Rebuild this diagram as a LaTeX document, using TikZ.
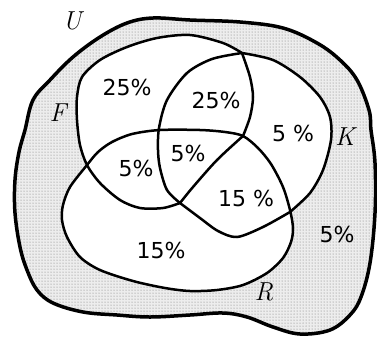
\documentclass[tikz,border=0pt]{standalone}
\usepackage{fontspec}
\newfontfamily\hand{DejaVu Sans}
\usetikzlibrary{patterns}
\tikzset{
  setline/.style={draw=black, line width=2.5pt, line join=round, line cap=round},
  blobline/.style={draw=black, line width=3.5pt, line join=round},
  pct/.style={font=\hand\fontsize{22}{24}\selectfont, inner sep=0pt},
  setlabel/.style={font=\fontsize{26}{28}\selectfont\itshape, inner sep=0pt}
}
\begin{document}
\begin{tikzpicture}[x=1pt,y=-1pt]
\useasboundingbox (0,0) rectangle (377,341);
\def\Upath{plot[smooth cycle, tension=0.6] coordinates {(190,20) (153,18) (127,23) (100,37) (73,57) (50,80) (33,100) (25,130) (19,152) (15,180) (15,213) (20,247) (27,270) (37,290) (53,303) (83,312) (117,315) (150,317) (190,315) (223,313) (247,317) (273,327) (300,334) (330,330) (350,315) (361,297) (370,263) (375,213) (375,163) (371,130) (369,110) (357,80) (340,60) (317,43) (283,28) (240,22)}}
\def\Fpath{plot[smooth] coordinates {(242,53) (250,77) (253,97) (250,117) (243,136)} -- plot[smooth] coordinates {(243,136) (217,160) (193,187) (180,203)} -- plot[smooth] coordinates {(180,203) (163,208) (140,208) (120,200) (100,183) (87,165) (80,145) (77,120) (77,97) (82,77) (100,60) (127,47) (157,38) (190,35) (223,43) (242,53)} -- cycle}
\def\Kpath{plot[smooth] coordinates {(242,53) (273,60) (300,77) (320,97) (330,117) (331,140) (323,170) (310,193) (290,212)} -- plot[smooth] coordinates {(290,212) (263,227) (237,237) (218,231) (200,218) (180,203)} -- plot[smooth] coordinates {(180,203) (167,190) (160,168) (158,150) (159,128) (167,100) (187,73) (212,59) (242,53)} -- cycle}
\def\Rpath{plot[smooth cycle] coordinates {(87,165) (98,152) (112,142) (132,134) (160,130) (200,130) (225,132) (243,136) (258,148) (271,164) (283,187) (290,210) (293,228) (291,242) (283,258) (267,273) (243,285) (217,290) (190,291) (165,288) (133,281) (100,270) (80,257) (67,237) (62,220) (63,205) (70,187)}}
% universe
\fill[gray!14] \Upath;
\fill[pattern=dots, pattern color=black!55] \Upath;
% sets
\fill[white] \Fpath;
\fill[white] \Kpath;
\fill[white] \Rpath;
\draw[setline] \Fpath;
\draw[setline] \Kpath;
\draw[setline] \Rpath;
\draw[blobline] \Upath;
% set labels
\node[setlabel] (lU) at (72,21) {U};
\node[setlabel] (lF) at (58,113) {F};
\node[setlabel] (lK) at (345,137) {K};
\node[setlabel] (lR) at (264,292) {R};
% percentages
\node[pct] (pF) at (127,87) {25\%};
\node[pct] (pFK) at (216,100) {25\%};
\node[pct] (pK) at (293,133) {5 \%};
\node[pct] (pFR) at (136,168) {5\%};
\node[pct] (pFKR) at (188,153) {5\%};
\node[pct] (pKR) at (246,198) {15 \%};
\node[pct] (pR) at (161,250) {15\%};
\node[pct] (pO) at (337,234) {5\%};
\end{tikzpicture}
\end{document}
